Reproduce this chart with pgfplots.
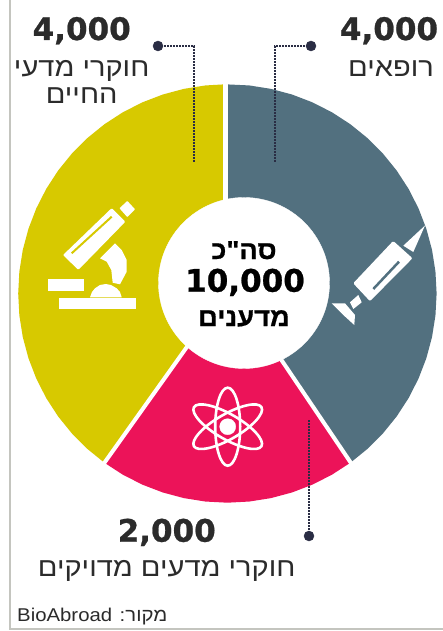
\documentclass[border=0pt]{standalone}
\usepackage{pgfplots}
\pgfplotsset{compat=1.18}
\usepackage{fontspec}
\setmainfont{Liberation Sans}
\newfontfamily\heb[Script=Hebrew,FakeStretch=1.1]{Liberation Sans}
\newfontfamily\hebb[Script=Hebrew,FakeBold=0.6,FakeStretch=1.05]{Liberation Sans Bold}
\newfontfamily\num[FakeBold=0.8]{DejaVu Sans Bold}
\TeXXeTstate=1
\definecolor{cY}{HTML}{D7C900}
\definecolor{cB}{HTML}{52707F}
\definecolor{cP}{HTML}{EC1359}
\definecolor{cL}{HTML}{2A2D44}
\definecolor{cT}{HTML}{2B2B2B}
\definecolor{cF}{HTML}{C4C5BF}
\newcommand{\fs}[1]{\fontsize{#1}{#1}\selectfont}
\begin{document}
\begin{tikzpicture}
\useasboundingbox (0,0) rectangle (443pt,631pt);
\fill[white] (0,0) rectangle (443pt,631pt);
% wedges: origin of this axis is the centre of the ring; (angle, radius)
\begin{axis}[at={(0,0)},anchor=south west,scale only axis,width=443pt,height=631pt,
  hide axis,xmin=-227.4,xmax=215.6,ymin=-337.5,ymax=293.5,clip=false]
\addplot[data cs=polar,fill=cB,draw=none] coordinates {(90.6,209.2)(84,209.2)(78,209.2)(72,209.2)(66,209.2)(60,209.2)(54,209.2)(48,209.2)(42,209.2)(36,209.2)(30,209.2)(24,209.2)(18,209.2)(12,209.2)(6,209.2)(0,209.2)(-6,209.2)(-12,209.2)(-18,209.2)(-24,209.2)(-30,209.2)(-36,209.2)(-42,209.2)(-48,209.2)(-54,209.2)(0,0)} -- cycle;
\addplot[data cs=polar,fill=cY,draw=none] coordinates {(-126,209.2)(-132,209.2)(-138,209.2)(-144,209.2)(-150,209.2)(-156,209.2)(-162,209.2)(-168,209.2)(-174,209.2)(-180,209.2)(-186,209.2)(-192,209.2)(-198,209.2)(-204,209.2)(-210,209.2)(-216,209.2)(-222,209.2)(-228,209.2)(-234,209.2)(-240,209.2)(-246,209.2)(-252,209.2)(-258,209.2)(-264,209.2)(-269.4,209.2)(0,0)} -- cycle;
\addplot[data cs=polar,fill=cP,draw=none] coordinates {(-54,209.2)(-60,209.2)(-66,209.2)(-72,209.2)(-78,209.2)(-84,209.2)(-90,209.2)(-96,209.2)(-102,209.2)(-108,209.2)(-114,209.2)(-120,209.2)(-126,209.2)(67,9.2)} -- cycle;
\addplot[only marks,mark=*,mark size=85.5pt,mark options={fill=white,draw=white}] coordinates {(16.6,10.5)};
\end{axis}
% everything else in image pixels (y downwards)
\begin{axis}[at={(0,0)},anchor=south west,scale only axis,width=443pt,height=631pt,
  hide axis,xmin=0,xmax=443,ymin=0,ymax=631,y dir=reverse,clip=false]
% frame
\addplot[cF,line width=2pt] coordinates {(10,0)(10,629)(443,629)};
% dividers
\addplot[white,line width=5pt] coordinates {(225,80)(225,205)};
\addplot[white,line width=4pt] coordinates {(188.3,345)(102.9,464.9)};
\addplot[white,line width=4pt] coordinates {(274.7,350)(352,464.5)};
% leaders
\addplot[cL,line width=2.4pt,dash pattern=on 1.6pt off 1.4pt] coordinates {(158,46)(194,46)(194,162)};
\addplot[cL,line width=2.4pt,dash pattern=on 1.6pt off 1.4pt] coordinates {(311,46)(275,46)(275,162)};
\addplot[cL,line width=2.4pt,dash pattern=on 1.6pt off 1.4pt] coordinates {(309,536)(309,420)};
\addplot[only marks,mark=*,mark size=5pt,mark options={fill=cL,draw=cL}] coordinates {(158,46)(311,46)};
\addplot[only marks,mark=*,mark size=5pt,mark options={fill=cL,draw=cL}] coordinates {(309,536)};
% microscope
\addplot[fill=white,draw=white,line width=2pt,line join=round] coordinates {(64.5,255)(111.7,209.5)(124,221.7)(78.3,268.5)} -- cycle;
\addplot[cY,line width=2pt] coordinates {(71.7,253.3)(111.7,216.7)};
\addplot[fill=white,draw=white,line width=1.5pt,line join=round] coordinates {(120.5,208.3)(127.3,202)(134,209.3)(127.3,216)} -- cycle;
\addplot[fill=white,draw=none] coordinates {(100,258.3)(115,243.3)(121.7,250)(126.7,260)(126.7,271.7)(120,284.3)(112.7,282.7)(111.3,270)(106.7,261.7)} -- cycle;
\addplot[fill=white,draw=none] coordinates {(90,297.3)(92,292)(95,288.3)(100,285)(105.7,284)(111,285)(116.7,288.3)(120,292)(121.7,297.3)} -- cycle;
\addplot[fill=white,draw=none] coordinates {(48.3,279.3)(84.3,279.3)(84.3,291)(48.3,291)} -- cycle;
\addplot[fill=white,draw=none] coordinates {(59.3,298.3)(135.7,298.3)(135.7,309.3)(59.3,309.3)} -- cycle;
% syringe
\addplot[fill=white,draw=white,line width=3pt,line join=round] coordinates {(355.3,283.3)(393.3,243)(410.3,258.3)(370,299)} -- cycle;
\addplot[cB,line width=2.5pt] coordinates {(373.3,289)(399,261.7)};
\addplot[fill=white,draw=none] coordinates {(403.3,245.7)(413.3,252)(425,225.5)} -- cycle;
\addplot[fill=white,draw=none] coordinates {(350,302.3)(358.3,295)(361.7,302.3)(353.3,309)} -- cycle;
\addplot[fill=white,draw=none] coordinates {(331.7,303.3)(345,303.3)(355,315)(354.3,325)(343.3,315)} -- cycle;
% atom
\draw[white,line width=2.6pt] (axis cs:227.7,426.7) ellipse [x radius=12.5pt,y radius=39pt];
\draw[white,line width=2.6pt] (axis cs:227.7,426.7) ellipse [x radius=12.5pt,y radius=39pt,rotate=60];
\draw[white,line width=2.6pt] (axis cs:227.7,426.7) ellipse [x radius=12.5pt,y radius=39pt,rotate=-60];
\addplot[only marks,mark=*,mark size=8pt,mark options={fill=white,draw=white}] coordinates {(227.7,426.7)};
% texts
\tikzset{nb/.style={inner sep=0pt,anchor=base,text=cT}}
\node[nb] at (axis cs:81.7,40) {\num\fs{31}4,000};
\node[nb] at (axis cs:389,40) {\num\fs{31}4,000};
\node[nb] at (axis cs:166.7,541.7) {\num\fs{31}2,000};
\node[nb,text=black] at (axis cs:245,291.7) {\num\fs{31}10,000};
\node[nb] at (axis cs:81.7,77) {\heb\fs{26.4}\beginR חוקרי מדעי\endR};
\node[nb] at (axis cs:81.7,104) {\heb\fs{26.4}\beginR החיים\endR};
\node[nb] at (axis cs:391,77) {\heb\fs{26.4}\beginR רופאים\endR};
\node[nb] at (axis cs:166.7,576.7) {\heb\fs{26.4}\beginR חוקרי מדעים מדויקים\endR};
\node[nb,text=black] at (axis cs:244,259) {\hebb\fs{26}\beginR סה"כ\endR};
\node[nb,text=black] at (axis cs:244,326) {\hebb\fs{26}\beginR מדענים\endR};
\node[inner sep=0pt,anchor=base west,text=cT] at (axis cs:17,621.7) {\heb\fs{18.5}\beginR מקור: \beginL BioAbroad\endL\endR};
\end{axis}
\end{tikzpicture}
\end{document}
